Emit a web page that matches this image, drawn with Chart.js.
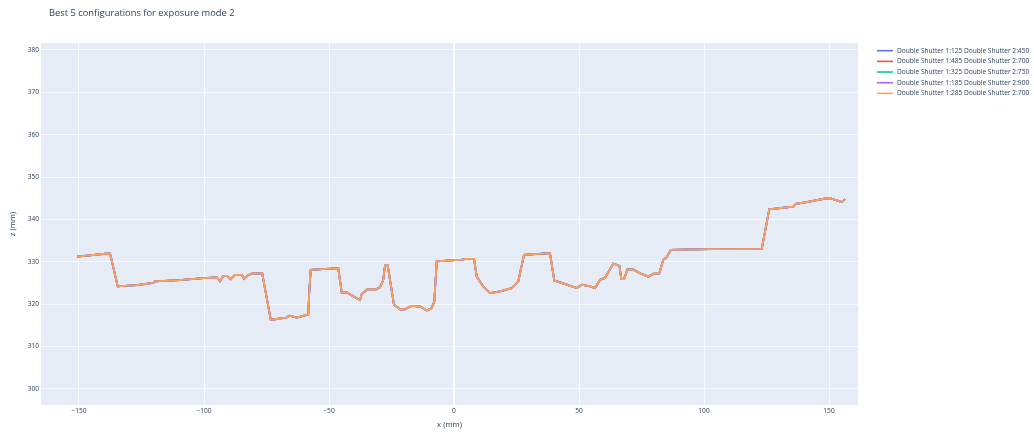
<!DOCTYPE html>
<html>
<head>
<meta charset="utf-8">
<script src="https://cdn.jsdelivr.net/npm/chart.js@4.4.0/dist/chart.umd.min.js"></script>
<style>
body { margin: 0; background: #ffffff; }
</style>
</head>
<body>
<canvas id="profile-chart" width="1034" height="435"></canvas>
<script>
// height profile along x, same scan for every shutter pair
const xMm = [
    -150.8, -137.6, -134.5, -127.0, -120.3, -119.6, -110.0, -100.3, -94.9, -93.6,
    -92.3, -90.9, -89.3, -87.6, -84.9, -83.9, -82.3, -80.3, -76.7, -73.3,
    -70.9, -66.9, -65.9, -62.9, -58.9, -58.3, -57.9, -57.3, -46.3, -44.9,
    -42.9, -38.9, -37.6, -36.9, -34.9, -31.6, -29.6, -28.3, -27.6, -26.5,
    -24.0, -21.6, -19.6, -16.9, -13.6, -10.9, -8.9, -7.9, -6.9, 3.1,
    5.1, 8.0, 9.1, 11.7, 14.4, 18.4, 23.1, 25.7, 28.0, 38.4,
    40.1, 45.1, 49.1, 51.1, 54.4, 56.4, 58.4, 60.4, 63.7, 66.2,
    66.9, 68.0, 69.4, 71.7, 74.4, 77.7, 80.4, 82.1, 83.7, 85.1,
    86.7, 102.4, 123.1, 126.1, 135.7, 136.8, 141.1, 149.1, 150.4, 155.1,
    156.4
];
const zMm = [
    331.2, 332.0, 324.2, 324.5, 325.0, 325.4, 325.7, 326.15, 326.3, 325.4,
    326.7, 326.7, 325.9, 326.9, 326.9, 326.0, 326.9, 327.3, 327.2, 316.3,
    316.5, 316.85, 317.3, 316.85, 317.5, 317.6, 323.0, 328.1, 328.5, 322.75,
    322.75, 321.4, 321.0, 322.4, 323.4, 323.4, 324.0, 325.75, 329.1, 329.1,
    319.85, 318.8, 318.8, 319.6, 319.45, 318.5, 319.1, 320.6, 330.1, 330.5,
    330.7, 330.7, 326.5, 324.2, 322.6, 323.0, 323.8, 325.35, 331.65, 332.05,
    325.6, 324.6, 323.8, 324.6, 324.2, 323.8, 325.75, 326.2, 329.6, 329.05,
    325.9, 325.9, 328.2, 328.2, 327.3, 326.5, 327.3, 327.3, 330.5, 331.1,
    332.8, 333.0, 333.07, 342.4, 343.05, 343.7, 344.1, 345.0, 345.0, 344.1,
    344.8
];

const configNames = [
    'Double Shutter 1:125 Double Shutter 2:450',
    'Double Shutter 1:485 Double Shutter 2:700',
    'Double Shutter 1:325 Double Shutter 2:750',
    'Double Shutter 1:185 Double Shutter 2:900',
    'Double Shutter 1:285 Double Shutter 2:700'
];
const configColors = ['#636EFA', '#EF553B', '#00CC96', '#AB63FA', '#FFA15A'];

const xTicks = [-150, -100, -50, 0, 50, 100, 150];
const yTicks = [300, 310, 320, 330, 340, 350, 360, 370, 380];

const chartTitle = 'Best 5 configurations for exposure mode 2';
const textColor = '#2a3f5f';
const fontFamily = '"Open Sans", "Noto Sans", sans-serif';


function buildDatasets() {
    let sets = [];
    for (let i = 0; i < configNames.length; ++i) {
        let pts = [];
        for (let k = 0; k < xMm.length; ++k) {
            pts.push({x: xMm[k], y: zMm[k]});
        }
        sets.push({
            label: configNames[i],
            data: pts,
            borderColor: configColors[i],
            backgroundColor: configColors[i],
            borderWidth: 1.8,
            pointRadius: 0,
            tension: 0,
            // later traces on top
            order: configNames.length - i
        });
    }
    return sets;
}


const plotBackground = {
    id: 'plotBackground',
    beforeDraw(chart) {
        const {ctx, chartArea} = chart;
        ctx.save();
        ctx.fillStyle = '#E5ECF6';
        ctx.fillRect(chartArea.left, chartArea.top, chartArea.right - chartArea.left, chartArea.bottom - chartArea.top);
        ctx.restore();
    }
};

const titleAndLegend = {
    id: 'titleAndLegend',
    afterDraw(chart) {
        const ctx = chart.ctx;
        ctx.save();
        ctx.fillStyle = textColor;
        ctx.textBaseline = 'middle';
        ctx.textAlign = 'left';
        ctx.font = '9.35px ' + fontFamily;
        ctx.fillText(chartTitle, 49, 13.3);

        ctx.font = '6.6px ' + fontFamily;
        chart.data.datasets.forEach((ds, i) => {
            let y = 50.7 + i * 10.67;
            ctx.strokeStyle = ds.borderColor;
            ctx.lineWidth = 1.6;
            ctx.beginPath();
            ctx.moveTo(877, y);
            ctx.lineTo(893, y);
            ctx.stroke();
            ctx.fillStyle = textColor;
            ctx.fillText(ds.label, 897, y);
        });
        ctx.restore();
    }
};


const config = {
    type: 'line',
    data: { datasets: buildDatasets() },
    options: {
        responsive: false,
        animation: false,
        layout: { padding: { left: 0, right: 176, top: 43, bottom: 0 } },
        plugins: {
            legend: { display: false },
            title: { display: false },
            tooltip: { enabled: false }
        },
        scales: {
            x: {
                type: 'linear',
                min: -165.2,
                max: 161.6,
                afterFit(scale) { scale.height = 30; },
                afterBuildTicks(scale) { scale.ticks = xTicks.map(v => ({value: v})); },
                border: { display: false },
                grid: {
                    color: c => (c.tick && c.tick.value === 0 ? '#ffffff' : 'rgba(255,255,255,0.75)'),
                    lineWidth: c => (c.tick && c.tick.value === 0 ? 2 : 1),
                    drawTicks: false
                },
                ticks: {
                    padding: 2,
                    color: textColor,
                    font: { family: fontFamily, size: 6.6 },
                    maxRotation: 0,
                    callback: v => String(v).replace('-', '\u2212')
                },
                title: {
                    display: true,
                    text: 'x (mm)',
                    color: textColor,
                    font: { family: fontFamily, size: 7.7 },
                    padding: { top: 0, bottom: 5.4 }
                }
            },
            y: {
                type: 'linear',
                min: 296.2,
                max: 381.65,
                afterFit(scale) { scale.width = 41; },
                afterBuildTicks(scale) { scale.ticks = yTicks.map(v => ({value: v})); },
                border: { display: false },
                grid: { color: 'rgba(255,255,255,0.75)', lineWidth: 1, drawTicks: false },
                ticks: {
                    padding: 2,
                    color: textColor,
                    font: { family: fontFamily, size: 6.6 }
                },
                title: {
                    display: true,
                    text: 'z (mm)',
                    color: textColor,
                    font: { family: fontFamily, size: 7.7 },
                    padding: { top: 8.4, bottom: 0 }
                }
            }
        }
    },
    plugins: [plotBackground, titleAndLegend]
};

new Chart('profile-chart', config);
</script>
</body>
</html>
